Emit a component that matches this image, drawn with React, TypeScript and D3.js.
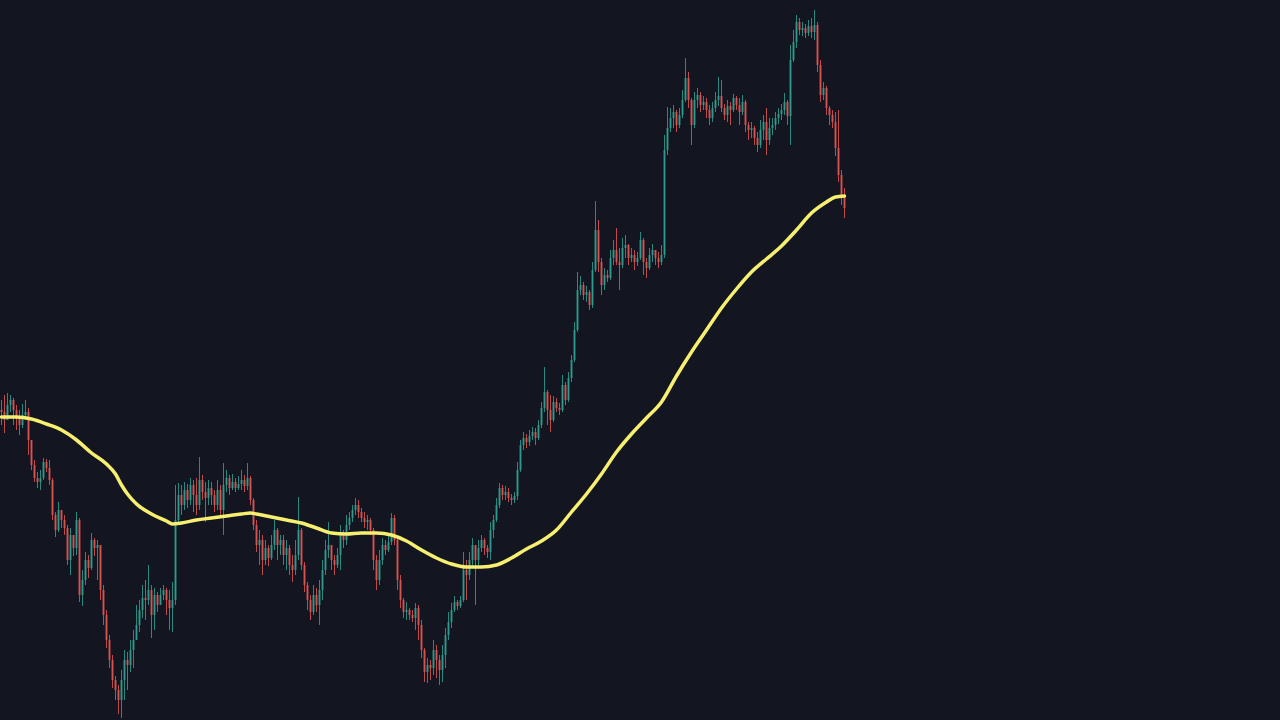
import React from "react";
import * as d3 from "d3";

const WIDTH = 1280;
const HEIGHT = 720;

const firstOpen = 310;

const closes = [
  308, 300, 315, 320, 310, 302, 295, 305, 308, 280,
  255, 242, 238, 242, 258, 252, 240, 205, 190, 210,
  200, 192, 160, 185, 172, 200, 125, 140, 160, 152,
  180, 172, 175, 130, 105, 80, 60, 40, 30, 20,
  40, 60, 55, 70, 80, 95, 110, 122, 120, 130,
  105, 125, 115, 125, 130, 120, 112, 120, 200, 225,
  215, 230, 220, 235, 225, 215, 240, 228, 222, 232,
  225, 215, 230, 210, 235, 242, 232, 238, 232, 236,
  240, 234, 242, 220, 195, 175, 180, 160, 172, 162,
  175, 190, 175, 180, 165, 172, 155, 150, 165, 190,
  155, 135, 120, 108, 125, 115, 130, 150, 170, 175,
  160, 155, 165, 185, 180, 195, 202, 210, 215, 208,
  202, 198, 200, 190, 160, 140, 160, 175, 170, 178,
  202, 180, 140, 120, 108, 110, 105, 102, 112, 95,
  70, 48, 55, 52, 70, 60, 50, 65, 85, 98,
  110, 118, 114, 120, 150, 145, 160, 175, 160, 172,
  180, 172, 168, 190, 200, 215, 232, 225, 228, 222,
  220, 224, 250, 275, 282, 278, 284, 288, 282, 295,
  312, 328, 310, 300, 318, 312, 310, 335, 320, 342,
  360, 390, 430, 435, 425, 428, 415, 450, 490, 458,
  435, 445, 442, 462, 470, 458, 455, 472, 475, 462,
  465, 458, 462, 480, 458, 452, 465, 470, 462, 458,
  465, 570, 592, 602, 608, 595, 605, 620, 642, 620,
  595, 620, 625, 615, 618, 610, 602, 612, 620, 624,
  612, 605, 614, 610, 622, 615, 608, 618, 595, 590,
  592, 582, 575, 590, 598, 580, 592, 595, 602, 606,
  610, 618, 604, 660, 678, 698, 690, 692, 687, 694,
  688, 695, 655, 625, 632, 612, 605, 598, 572, 545, 525, 512,
];

const highs = [
  320, 325, 327, 325, 322, 315, 310, 316, 320, 312,
  270, 260, 248, 250, 262, 261, 260, 242, 208, 218,
  210, 205, 195, 192, 180, 208, 202, 150, 168, 165,
  187, 182, 180, 175, 135, 110, 85, 65, 44, 35,
  50, 70, 68, 80, 90, 115, 120, 135, 140, 155,
  135, 132, 128, 132, 135, 132, 130, 138, 235, 237,
  235, 238, 236, 242, 240, 242, 263, 245, 238, 240,
  238, 230, 240, 235, 257, 250, 245, 246, 242, 244,
  250, 245, 257, 244, 222, 200, 190, 185, 180, 175,
  185, 200, 192, 185, 185, 180, 175, 165, 180, 223,
  192, 158, 138, 125, 135, 132, 140, 160, 180, 198,
  175, 165, 172, 195, 190, 205, 208, 215, 222, 220,
  212, 208, 205, 202, 192, 165, 170, 182, 180, 185,
  207, 205, 182, 145, 122, 118, 112, 110, 117, 115,
  100, 72, 62, 60, 80, 75, 65, 75, 92, 108,
  117, 124, 120, 124, 168, 160, 168, 182, 175, 180,
  185, 182, 175, 198, 205, 222, 237, 235, 234, 232,
  226, 228, 258, 280, 288, 286, 290, 293, 292, 300,
  318, 353, 330, 325, 324, 322, 317, 345, 338, 348,
  365, 398, 448, 444, 438, 434, 430, 458, 519, 500,
  462, 452, 450, 470, 480, 492, 472, 482, 485, 476,
  472, 470, 468, 488, 482, 462, 472, 476, 470, 468,
  475, 585, 613, 612, 615, 610, 612, 630, 662, 648,
  622, 628, 632, 628, 624, 622, 615, 618, 628, 643,
  640, 616, 620, 618, 626, 624, 622, 625, 620, 598,
  598, 594, 588, 600, 605, 612, 602, 602, 608, 612,
  616, 627, 620, 675, 690, 705, 702, 698, 696, 700,
  702, 710, 698, 660, 638, 634, 614, 610, 608, 610, 550, 532,
];

const lows = [
  295, 287, 300, 308, 295, 290, 285, 292, 300, 265,
  250, 238, 232, 230, 240, 248, 235, 200, 183, 188,
  192, 185, 155, 145, 164, 165, 118, 114, 135, 142,
  150, 164, 140, 120, 95, 72, 52, 32, 20, 6,
  2, 20, 30, 48, 52, 80, 88, 102, 100, 115,
  82, 90, 108, 115, 120, 105, 90, 88, 115, 195,
  205, 210, 212, 215, 208, 205, 210, 220, 198, 215,
  215, 208, 210, 205, 185, 228, 225, 230, 228, 230,
  230, 228, 230, 215, 190, 168, 155, 145, 155, 154,
  160, 170, 160, 165, 155, 150, 145, 138, 145, 160,
  150, 128, 110, 100, 105, 108, 95, 120, 145, 162,
  150, 145, 152, 150, 172, 175, 190, 198, 205, 202,
  198, 192, 190, 185, 150, 130, 135, 155, 165, 168,
  175, 175, 130, 112, 102, 100, 100, 98, 90, 80,
  62, 38, 37, 40, 45, 42, 35, 38, 52, 80,
  92, 108, 110, 112, 118, 120, 140, 155, 115, 155,
  168, 165, 162, 160, 182, 198, 212, 220, 220, 218,
  215, 217, 220, 248, 270, 272, 274, 280, 275, 280,
  292, 308, 295, 288, 298, 308, 305, 308, 315, 318,
  338, 358, 388, 425, 420, 418, 410, 412, 448, 448,
  425, 430, 438, 440, 455, 455, 430, 452, 462, 455,
  458, 450, 454, 460, 445, 442, 450, 458, 455, 452,
  455, 462, 565, 588, 592, 588, 592, 602, 618, 612,
  575, 592, 612, 608, 610, 602, 595, 598, 608, 614,
  608, 600, 598, 595, 608, 610, 595, 605, 588, 580,
  582, 575, 568, 572, 580, 565, 575, 585, 590, 596,
  600, 605, 595, 575, 658, 672, 685, 684, 682, 684,
  682, 680, 648, 618, 620, 605, 595, 592, 564, 538, 515, 502,
];

const maIndex = [
  0, 5, 10, 15, 20, 25, 30, 35, 38, 40,
  42, 45, 50, 55, 57, 60, 65, 70, 75, 80,
  83, 85, 90, 95, 100, 105, 110, 115, 120, 125,
  130, 135, 140, 145, 150, 155, 160, 165, 170, 175,
  180, 185, 190, 195, 200, 205, 210, 215, 220, 225,
  230, 235, 240, 245, 250, 255, 260, 265, 270, 275,
  278, 281,
];

const maValues = [
  303, 303, 301, 296, 290, 280, 267, 256, 246, 235,
  226, 216, 206, 199, 196, 197, 200, 202, 204, 206,
  207, 206, 203, 200, 197, 192, 187, 186, 187, 187,
  185, 179, 170, 162, 156, 153, 153, 155, 162, 171,
  179, 190, 208, 226, 246, 268, 286, 302, 318, 344,
  368, 390, 412, 431, 448, 461, 474, 490, 507, 518,
  523, 524,
];

const BG = "#131620";
const UP = "#2f9e90";
const DOWN = "#de5350";
const MA_COLOR = "#f6ef70";

export default function App() {
  const n = closes.length;
  const x = d3.scaleLinear().domain([0, n - 1]).range([1.5, 844.5]);
  const y = d3.scaleLinear().domain([0, 720]).range([HEIGHT, 0]);

  const candles = closes.map((c, i) => {
    const o = i === 0 ? firstOpen : closes[i - 1];
    const h = Math.max(highs[i], o, c);
    const l = Math.min(lows[i], o, c);
    return { i, o, c, h, l, up: c >= o };
  });

  const maLine = d3
    .line<number>()
    .x((_, k) => x(maIndex[k]))
    .y((v) => y(v))
    .curve(d3.curveMonotoneX);

  const bodyW = 2;

  return (
    <svg
      width={WIDTH}
      height={HEIGHT}
      style={{ position: "absolute", left: 0, top: 0, display: "block" }}
    >
      <rect x={0} y={0} width={WIDTH} height={HEIGHT} fill={BG} />
      <g>
        {candles.map((d) => {
          const cx = x(d.i);
          const col = d.up ? UP : DOWN;
          const top = y(Math.max(d.o, d.c));
          const bot = y(Math.min(d.o, d.c));
          return (
            <g key={d.i}>
              <rect
                x={cx - 0.5}
                y={y(d.h)}
                width={1}
                height={Math.max(1, y(d.l) - y(d.h))}
                fill={col}
                opacity={0.85}
              />
              <rect
                x={cx - bodyW / 2}
                y={top}
                width={bodyW}
                height={Math.max(1, bot - top)}
                fill={col}
                opacity={0.85}
              />
            </g>
          );
        })}
      </g>
      <path
        d={maLine(maValues) || ""}
        fill="none"
        stroke={MA_COLOR}
        strokeWidth={3.5}
        strokeLinejoin="round"
        strokeLinecap="round"
      />
    </svg>
  );
}
